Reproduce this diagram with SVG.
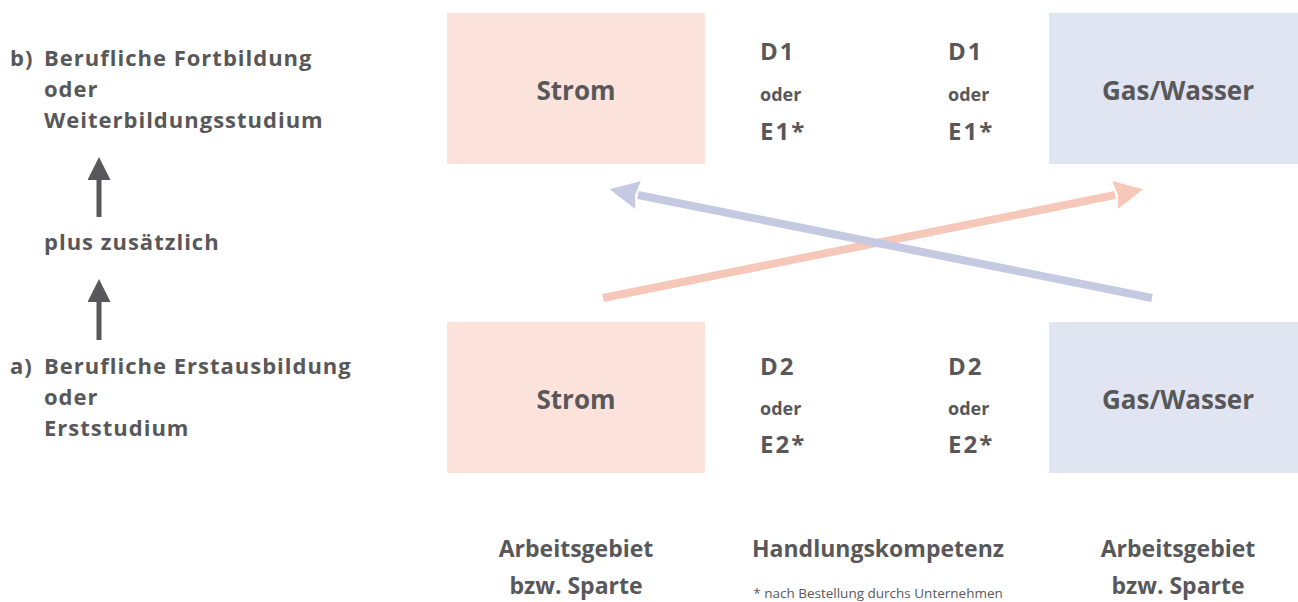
<svg xmlns="http://www.w3.org/2000/svg" width="1298" height="602" viewBox="0 0 1298 602">
  <style>
    text { font-family: "Open Sans", "Liberation Sans", sans-serif; font-weight: bold; fill: #58585a; }
    .side { font-size: 22px; letter-spacing: 1px; }
    .box { font-size: 26px; text-anchor: middle; }
    .code { font-size: 24px; letter-spacing: 2px; }
    .or { font-size: 18px; }
    .cap { font-size: 23px; text-anchor: middle; }
    .note { font-size: 13.5px; font-weight: normal; text-anchor: middle; }
    .strom { fill: #fbe3dc; }
    .gas { fill: #e1e4f1; }
  </style>
  <defs>
    <marker id="headGray" viewBox="0 0 10 10" refX="0" refY="5" markerWidth="5.8" markerHeight="4.6" markerUnits="strokeWidth" orient="auto">
      <path d="M0,0 L10,5 L0,10 Z" fill="#58585a"/>
    </marker>
    <marker id="headPink" viewBox="0 0 10 10" refX="0" refY="5" markerWidth="4.6" markerHeight="3.6" markerUnits="strokeWidth" orient="auto">
      <path d="M0,0 L10,5 L0,10 L1,5 Z" fill="#f6c8b9"/>
    </marker>
    <marker id="headBlue" viewBox="0 0 10 10" refX="0" refY="5" markerWidth="4.6" markerHeight="3.6" markerUnits="strokeWidth" orient="auto">
      <path d="M0,0 L10,5 L0,10 L1,5 Z" fill="#c5cae2"/>
    </marker>
  </defs>

  <!-- left column: qualification path -->
  <g id="qual-b">
    <text class="side" x="10" y="66">b)</text>
    <text class="side" x="44" y="66">Berufliche Fortbildung</text>
    <text class="side" x="44" y="97">oder</text>
    <text class="side" x="44" y="128">Weiterbildungsstudium</text>
  </g>
  <g id="qual-plus">
    <text class="side" x="44" y="250">plus zusätzlich</text>
  </g>
  <g id="qual-a">
    <text class="side" x="10" y="374">a)</text>
    <text class="side" x="44" y="374">Berufliche Erstausbildung</text>
    <text class="side" x="44" y="405">oder</text>
    <text class="side" x="44" y="436">Erststudium</text>
  </g>

  <!-- work areas -->
  <g id="strom-top">
    <rect class="strom" x="447" y="13" width="258" height="151"/>
    <text class="box" x="576" y="100">Strom</text>
  </g>
  <g id="gas-top">
    <rect class="gas" x="1049" y="13" width="249" height="151"/>
    <text class="box" x="1178" y="100">Gas/Wasser</text>
  </g>
  <g id="strom-bottom">
    <rect class="strom" x="447" y="322" width="258" height="151"/>
    <text class="box" x="576" y="409">Strom</text>
  </g>
  <g id="gas-bottom">
    <rect class="gas" x="1049" y="322" width="249" height="151"/>
    <text class="box" x="1178" y="409">Gas/Wasser</text>
  </g>

  <!-- competence levels -->
  <g id="level-1-left">
    <text class="code" x="760" y="60">D1</text>
    <text class="or" x="760" y="101">oder</text>
    <text class="code" x="760" y="140">E1*</text>
  </g>
  <g id="level-1-right">
    <text class="code" x="948" y="60">D1</text>
    <text class="or" x="948" y="101">oder</text>
    <text class="code" x="948" y="140">E1*</text>
  </g>
  <g id="level-2-left">
    <text class="code" x="760" y="375">D2</text>
    <text class="or" x="760" y="415">oder</text>
    <text class="code" x="760" y="453">E2*</text>
  </g>
  <g id="level-2-right">
    <text class="code" x="948" y="375">D2</text>
    <text class="or" x="948" y="415">oder</text>
    <text class="code" x="948" y="453">E2*</text>
  </g>

  <!-- column captions -->
  <g id="caption-left">
    <text class="cap" x="576" y="557">Arbeitsgebiet</text>
    <text class="cap" x="576" y="594">bzw. Sparte</text>
  </g>
  <g id="caption-middle">
    <text class="cap" x="878" y="557">Handlungskompetenz</text>
    <text class="note" x="878" y="598">* nach Bestellung durchs Unternehmen</text>
  </g>
  <g id="caption-right">
    <text class="cap" x="1178" y="557">Arbeitsgebiet</text>
    <text class="cap" x="1178" y="594">bzw. Sparte</text>
  </g>

  <!-- connectors -->
  <g id="connectors" fill="none">
    <line x1="99" y1="217" x2="99" y2="180" stroke="#58585a" stroke-width="5" marker-end="url(#headGray)"/>
    <line x1="99" y1="340" x2="99" y2="302" stroke="#58585a" stroke-width="5" marker-end="url(#headGray)"/>
    <line x1="603" y1="298" x2="1115" y2="195" stroke="#f6c8b9" stroke-width="8" marker-end="url(#headPink)"/>
    <line x1="1152" y1="298" x2="638" y2="195" stroke="#c5cae2" stroke-width="8" marker-end="url(#headBlue)"/>
  </g>
</svg>
